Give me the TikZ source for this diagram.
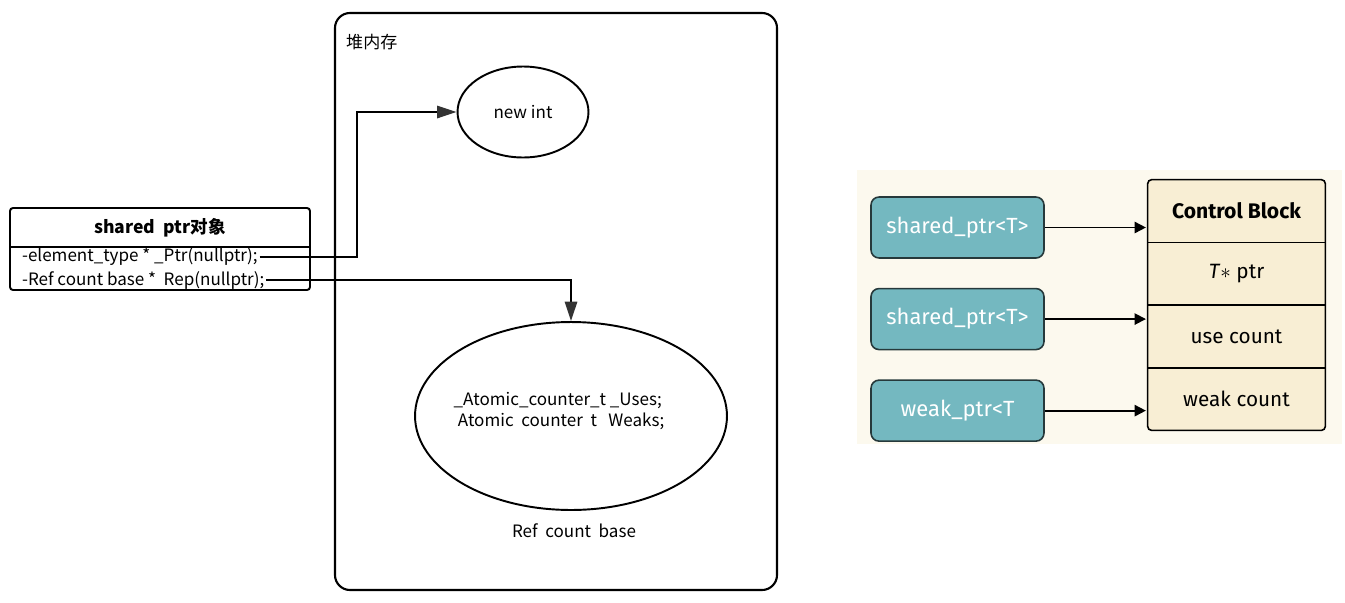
\documentclass[tikz,border=0pt]{standalone}
\usepackage{fontspec}
\newfontfamily\cjk{Noto Sans CJK SC}
\newfontfamily\panelfont{Fira Sans}
\usetikzlibrary{shapes.geometric}
\usetikzlibrary{arrows.meta}
\usetikzlibrary{positioning}
\usetikzlibrary{backgrounds}
\definecolor{tealbox}{HTML}{74B8C0}
\definecolor{tealedge}{HTML}{26393B}
\definecolor{panelbg}{HTML}{FCF9EE}
\definecolor{cellbg}{HTML}{F8EED4}
\definecolor{headgray}{HTML}{333333}
\tikzset{
  leftfont/.style={font=\cjk\fontsize{9.7}{12}\selectfont},
  oval/.style={ellipse, draw, line width=1.1pt, leftfont},
  heaparrow/.style={line width=1.1pt, -{Triangle[length=11pt,width=7pt,color=headgray]}},
  ptrbox/.style={rectangle, rounded corners=0.16cm, draw=tealedge, fill=tealbox, line width=0.9pt,
    minimum width=3.46cm, minimum height=1.22cm, text=white, font=\panelfont\fontsize{12.5}{14}\selectfont},
  cell/.style={rectangle, minimum width=3.54cm, minimum height=1.24cm, inner sep=0pt,
    font=\panelfont\fontsize{11.8}{13}\selectfont},
  blockarrow/.style={line width=1pt, -{Triangle[length=6.5pt,width=6.5pt]}, shorten >=1pt}
}
\begin{document}
\begin{tikzpicture}[x=0.02cm,y=-0.02cm]
\useasboundingbox (0,0) rectangle (1345,602);

% heap memory
\draw[line width=1.2pt, rounded corners=0.3cm] (335,13) rectangle (777,590);
\node[leftfont, anchor=west] (heaplabel) at (340,42) {堆内存};
\node[oval, minimum width=2.62cm, minimum height=1.82cm] (newint) at (523,112) {new int};
\node[oval, minimum width=6.24cm, minimum height=3.76cm] (refcount) at (571,416) {};
\node[leftfont, align=left] (counters) at (559,411)
  {\_Atomic\_counter\_t \_Uses;\\\hspace{0.25em}Atomic\ \ counter\ \ t\ \ \ Weaks;};
\node[leftfont] (refname) at (574,531) {Ref\ \ count\ \ base};

% shared_ptr object
\draw[line width=1.1pt, rounded corners=0.06cm] (10,208) rectangle (310,290);
\draw[line width=1.1pt] (10,247) -- (310,247);
\node[font=\cjk\bfseries\fontsize{10}{12}\selectfont] (objtitle) at (160,228) {shared\ \ ptr对象};
\node[leftfont, anchor=west, inner sep=1pt] (ptrline) at (20,257) {-element\_type * \_Ptr(nullptr);};
\node[leftfont, anchor=west, inner sep=1pt] (repline) at (20,280) {-Ref\ count\ base *\ \ Rep(nullptr);};

\coordinate (bend) at (357,112);
\draw[heaparrow] (ptrline.east) -| (bend) -- (newint.west);
\draw[heaparrow] (repline.east) -| (refcount.north);

% control block panel
\node[ptrbox] (sp1) at (957.5,227.5) {shared\_ptr<T>};
\node[ptrbox, below=0.58cm of sp1] (sp2) {shared\_ptr<T>};
\node[ptrbox, below=0.58cm of sp2] (wp) {weak\_ptr<T};

\node[cell, font=\panelfont\bfseries\fontsize{12}{14}\selectfont] (cb1) at (1236.5,211) {Control Block};
\node[cell, below=0pt of cb1] (cb2) {\textit{T}$\ast$ ptr};
\node[cell, below=0pt of cb2] (cb3) {use count};
\node[cell, below=0pt of cb3] (cb4) {weak count};

\begin{scope}[on background layer]
  \fill[panelbg] (857,170) rectangle (1342,444);
  \fill[cellbg, rounded corners=0.08cm] (cb1.north west) rectangle (cb4.south east);
\end{scope}
\draw[line width=0.9pt, rounded corners=0.08cm] (cb1.north west) rectangle (cb4.south east);
\foreach \c in {cb1,cb2,cb3}
  \draw[line width=0.9pt] (\c.south west) -- (\c.south east);

\draw[blockarrow] (sp1.east) -- (sp1.east -| cb1.west);
\draw[blockarrow] (sp2.east) -- (sp2.east -| cb1.west);
\draw[blockarrow] (wp.east) -- (wp.east -| cb1.west);
\end{tikzpicture}
\end{document}
